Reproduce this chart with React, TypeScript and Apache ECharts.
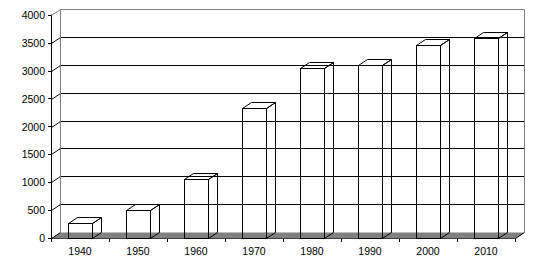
import React, { useEffect, useRef } from "react";
import * as echarts from "echarts";

const years = ["1940", "1950", "1960", "1970", "1980", "1990", "2000", "2010"];
const values = [270, 510, 1050, 2330, 3050, 3110, 3470, 3580];
const yTicks = [0, 500, 1000, 1500, 2000, 2500, 3000, 3500, 4000];
const Y_MIN = 0;
const Y_MAX = 4000;
const Y_STEP = 500;

const DX = 9;
const DY = -6;
const FONT = "'Liberation Sans', Arial, sans-serif";

export default function App() {
  const ref = useRef<HTMLDivElement>(null);

  useEffect(() => {
    if (!ref.current) return;
    const chart = echarts.init(ref.current, null, { renderer: "svg" });

    const px = (v: number) => Math.round(v) + 0.5;

    const wallRender = (params: any, api: any) => {
      const cs = params.coordSys;
      const L = px(cs.x);
      const R = px(cs.x + cs.width);
      const B = px(api.coord([0, Y_MIN])[1]);
      const T = px(api.coord([0, Y_MAX])[1]);
      const children: any[] = [];
      children.push({
        type: "polygon",
        shape: { points: [[L, B], [R, B], [R + DX, B + DY], [L + DX, B + DY]] },
        style: { fill: "#808080", stroke: "none" },
      });
      children.push({
        type: "line",
        shape: { x1: R, y1: B, x2: R + DX, y2: B + DY },
        style: { stroke: "#000", lineWidth: 1 },
      });
      yTicks.forEach((t) => {
        const y = px(api.coord([0, t])[1]);
        const top = t === Y_MAX;
        const col = top ? "#808080" : "#000";
        if (t !== Y_MIN) {
          children.push({
            type: "line",
            shape: { x1: L + DX, y1: y + DY, x2: R + DX, y2: y + DY },
            style: { stroke: col, lineWidth: 1 },
          });
        }
        children.push({
          type: "line",
          shape: { x1: L, y1: y, x2: L + DX, y2: y + DY },
          style: { stroke: col, lineWidth: 1 },
        });
      });
      children.push({
        type: "line",
        shape: { x1: L + DX, y1: T + DY, x2: L + DX, y2: B + DY },
        style: { stroke: "#808080", lineWidth: 1 },
      });
      children.push({
        type: "line",
        shape: { x1: R + DX, y1: T + DY, x2: R + DX, y2: B + DY },
        style: { stroke: "#808080", lineWidth: 1 },
      });
      return { type: "group", children };
    };

    const barRender = (params: any, api: any) => {
      const idx = api.value(0);
      const v = api.value(1);
      const top = api.coord([idx, v]);
      const base = api.coord([idx, 0]);
      const w = api.size([1, 0])[0] * 0.4;
      const x0 = px(top[0] - w / 2);
      const x1 = px(top[0] + w / 2);
      const yt = px(top[1]);
      const yb = px(base[1]);
      const st = { fill: "none", stroke: "#000", lineWidth: 1 };
      return {
        type: "group",
        children: [
          { type: "polygon", shape: { points: [[x0, yb], [x0, yt], [x1, yt], [x1, yb]] }, style: st },
          {
            type: "polygon",
            shape: { points: [[x0, yt], [x0 + DX, yt + DY], [x1 + DX, yt + DY], [x1, yt]] },
            style: st,
          },
          {
            type: "polygon",
            shape: { points: [[x1, yt], [x1 + DX, yt + DY], [x1 + DX, yb + DY], [x1, yb]] },
            style: st,
          },
        ],
      };
    };

    chart.setOption({
      animation: false,
      backgroundColor: "#fff",
      grid: { left: 51, right: 31, top: 15, bottom: 32, containLabel: false },
      xAxis: {
        type: "category",
        data: years,
        boundaryGap: true,
        axisLine: { show: true, lineStyle: { color: "#000", width: 1 } },
        axisTick: { show: true, length: 4, lineStyle: { color: "#000" } },
        axisLabel: { color: "#000", fontSize: 10.5, fontFamily: FONT, margin: 7 },
        splitLine: { show: false },
      },
      yAxis: {
        type: "value",
        min: Y_MIN,
        max: Y_MAX,
        interval: Y_STEP,
        axisLine: { show: true, lineStyle: { color: "#000", width: 1 } },
        axisTick: { show: true, length: 3, lineStyle: { color: "#000" } },
        axisLabel: {
          color: "#000",
          fontSize: 10.5,
          fontFamily: FONT,
          margin: 6,
          formatter: (v: number) => String(v),
        },
        splitLine: { show: false },
      },
      series: [
        {
          type: "custom",
          renderItem: wallRender,
          data: [[0, 0]],
          z: 1,
          silent: true,
          clip: false,
        },
        {
          type: "custom",
          renderItem: barRender,
          data: values.map((v, i) => [i, v]),
          z: 3,
          silent: true,
          clip: false,
        },
      ],
    });

    return () => chart.dispose();
  }, []);

  return (
    <div
      ref={ref}
      style={{ position: "absolute", left: 0, top: 0, width: 546, height: 270, background: "#fff" }}
    />
  );
}
